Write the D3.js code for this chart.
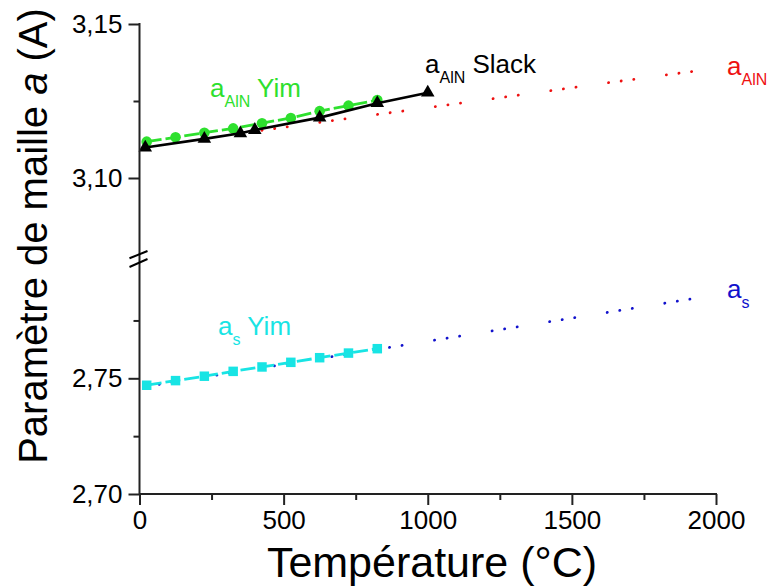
<!DOCTYPE html>
<html><head><meta charset="utf-8">
<script src="https://cdn.jsdelivr.net/npm/d3@7/dist/d3.min.js"></script>
<style>
html,body{margin:0;padding:0;background:#fff;}
svg{display:block;font-family:"Liberation Sans",Arial,sans-serif;}
</style></head>
<body>
<svg id="chart" width="769" height="587"></svg>
<script>
// ---- data ----
const yimT = [25,125,225,325,425,525,625,725,825];
const yimAlN = [3.1118,3.1132,3.1147,3.1161,3.1178,3.1195,3.1217,3.1235,3.1253];
const slackT = [20,225,350,400,625,825,1000];
const slackAlN = [3.1099,3.1127,3.1145,3.1156,3.1196,3.1243,3.1277];
const fitAlNT = [425,800,1200,1600,1950];
const fitAlN = [3.1155,3.1203,3.1254,3.1306,3.1350];
const yimS = [2.7470,2.7490,2.7509,2.7530,2.7549,2.7569,2.7589,2.7609,2.7628];
const fitST = [25,400,800,1200,1600,1950];
const fitS = [2.7465,2.7540,2.7620,2.7700,2.7780,2.7850];
const xTicks = [0,500,1000,1500,2000];
const xMinor = [250,750,1250,1750];
const yUpTicks = [3.10,3.15];
const yUpMinor = [3.125];
const yLoTicks = [2.70,2.75];
const yLoMinor = [2.725,2.775];

const svg = d3.select("#chart");
const x = d3.scaleLinear().domain([0,2000]).range([139.5,716]);
const yUp = d3.scaleLinear().domain([3.075,3.15]).range([255,24]);
const yLo = d3.scaleLinear().domain([2.70,2.80]).range([494,262.6]);
const fmt = v => d3.format(".2f")(v).replace(".", ",");
const axisCol = "#222";

function zip(a,b){ return a.map((d,i)=>[d,b[i]]); }

// ---- lines ----
const dotted = "0.1 12.6 0.1 12.6 0.1 32.8";
function drawLine(data, ys, color, width, dash){
  const line = d3.line().x(d=>x(d[0])).y(d=>ys(d[1]));
  svg.append("path").datum(data).attr("d", line)
    .attr("fill","none").attr("stroke",color).attr("stroke-width",width)
    .attr("stroke-dasharray",dash||null)
    .attr("stroke-linecap", dash===dotted ? "round" : "butt");
}
const red = "#ee1111", blue = "#1111cc", green = "#2ee02e", cyan = "#18e4e4";

drawLine(zip(fitAlNT,fitAlN), yUp, red, 2.8, dotted);
drawLine(zip(fitST,fitS), yLo, blue, 2.8, dotted);

// green Yim AlN
drawLine(zip(yimT,yimAlN), yUp, green, 2.8, "15 4");
svg.append("g").selectAll("path").data(zip(yimT,yimAlN)).join("path")
  .attr("d", d3.symbol(d3.symbolCircle, 88))
  .attr("transform", d=>`translate(${x(d[0])},${yUp(d[1])})`)
  .attr("fill", green);

// black Slack
drawLine(zip(slackT,slackAlN), yUp, "#000", 2.6);
svg.append("g").selectAll("path").data(zip(slackT,slackAlN)).join("path")
  .attr("d", d3.symbol(d3.symbolTriangle, 80))
  .attr("transform", d=>`translate(${x(d[0])},${yUp(d[1])})`)
  .attr("fill", "#000");

// cyan Yim s
drawLine(zip(yimT,yimS), yLo, cyan, 2.8, "15 4");
svg.append("g").selectAll("path").data(zip(yimT,yimS)).join("path")
  .attr("d", d3.symbol(d3.symbolSquare, 90))
  .attr("transform", d=>`translate(${x(d[0])},${yLo(d[1])})`)
  .attr("fill", cyan);

// ---- axes ----
function styleAxis(g){
  g.select(".domain").remove();
  g.selectAll(".tick line").attr("stroke",axisCol).attr("stroke-width",2);
  g.selectAll(".tick text").attr("fill","#000").style("font-size","26px")
   .style("font-family",'"Liberation Sans",Arial,sans-serif');
}
// x axis
const gx = svg.append("g").attr("transform","translate(0,494)")
  .call(d3.axisBottom(x).tickValues(xTicks).tickSize(11).tickPadding(6).tickFormat(d3.format("d")));
styleAxis(gx);
const gxm = svg.append("g").attr("transform","translate(0,494)")
  .call(d3.axisBottom(x).tickValues(xMinor).tickSize(6).tickFormat(""));
styleAxis(gxm);
svg.append("line").attr("x1",139.5).attr("x2",717).attr("y1",494).attr("y2",494)
  .attr("stroke",axisCol).attr("stroke-width",2);

// y axes (broken)
const gyu = svg.append("g").attr("transform","translate(139.5,0)")
  .call(d3.axisLeft(yUp).tickValues(yUpTicks).tickSize(11).tickPadding(6).tickFormat(fmt));
styleAxis(gyu);
const gyum = svg.append("g").attr("transform","translate(139.5,0)")
  .call(d3.axisLeft(yUp).tickValues(yUpMinor).tickSize(6).tickFormat(""));
styleAxis(gyum);
const gyl = svg.append("g").attr("transform","translate(139.5,0)")
  .call(d3.axisLeft(yLo).tickValues(yLoTicks).tickSize(11).tickPadding(6).tickFormat(fmt));
styleAxis(gyl);
const gylm = svg.append("g").attr("transform","translate(139.5,0)")
  .call(d3.axisLeft(yLo).tickValues(yLoMinor).tickSize(6).tickFormat(""));
styleAxis(gylm);
svg.append("line").attr("x1",139.5).attr("x2",139.5).attr("y1",23).attr("y2",495)
  .attr("stroke",axisCol).attr("stroke-width",2);
// break marks
[[258.3,251],[267,259]].forEach(([a,b])=>{
  svg.append("line").attr("x1",129.5).attr("y1",a).attr("x2",147.5).attr("y2",b)
    .attr("stroke","#000").attr("stroke-width",2);
});

// ---- titles ----
svg.append("text").attr("x",432).attr("y",577).attr("text-anchor","middle")
  .style("font-size","43px").text("Température (°C)");
const yt = svg.append("text").attr("transform","translate(47,236) rotate(-90)")
  .attr("text-anchor","middle").style("font-size","40px");
yt.append("tspan").text("Paramètre de maille ");
yt.append("tspan").style("font-style","italic").text("a");
yt.append("tspan").text(" (A)");

// ---- series labels ----
function label(xp, yp, color, sub, rest){
  const t = svg.append("text").attr("x",xp).attr("y",yp).attr("fill",color).style("font-size","26px");
  t.append("tspan").text("a");
  t.append("tspan").attr("dy",10).style("font-size","16px").text(sub);
  if(rest) t.append("tspan").attr("dy",-10).text(" "+rest);
}
label(210, 97, green, "AlN", "Yim");
label(425, 73, "#000", "AlN", "Slack");
label(727, 75, red, "AlN");
label(218, 335, cyan, "s", "Yim");
label(727, 298, blue, "s");
</script>
</body></html>
